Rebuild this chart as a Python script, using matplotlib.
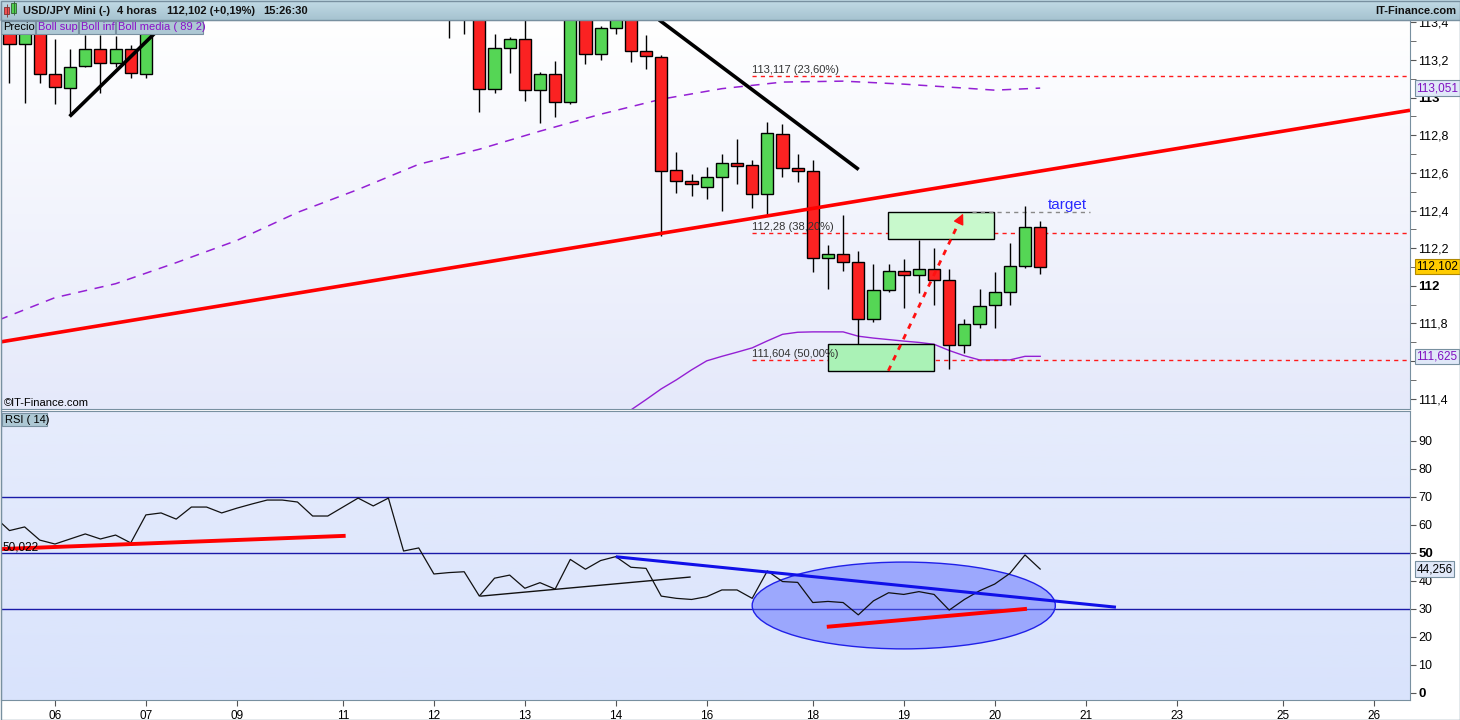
import numpy as np
import matplotlib.pyplot as plt
import matplotlib.colors as mcolors
from matplotlib.patches import Rectangle, Ellipse
from matplotlib.transforms import blended_transform_factory as blend

plt.rcParams['font.family'] = ['Liberation Sans', 'DejaVu Sans']
plt.rcParams['font.size'] = 8

W, H = 1460, 720

# ---------- 4h candles, first bar index = -3 ----------
bar0 = -3
opens = [113.40, 113.285, 113.45, 113.125, 113.051, 113.168, 113.259, 113.184, 113.259, 113.125,
         113.45, 113.50, 113.46, 113.58, 113.59, 113.53, 113.60, 113.67, 113.75, 113.76,
         113.73, 113.60, 113.61, 113.70, 113.82, 113.74, 113.86, 113.52, 113.55, 113.44,
         113.46, 113.47, 113.045, 113.264, 113.312, 113.040, 113.125, 112.976, 113.45, 113.232,
         113.371, 113.44, 113.248, 113.216, 112.614, 112.555, 112.523, 112.576, 112.651, 112.640,
         112.486, 112.806, 112.624, 112.608, 112.150, 112.171, 112.129, 111.825, 111.979, 112.081,
         112.059, 112.091, 112.033, 111.686, 111.798, 111.899, 111.969, 112.107, 112.310]
highs = [113.45, 113.42, 113.48, 113.312, 113.259, 113.333, 113.333, 113.33, 113.28, 113.50,
         113.55, 113.56, 113.63, 113.64, 113.62, 113.65, 113.71, 113.80, 113.81, 113.82,
         113.75, 113.66, 113.74, 113.86, 113.85, 113.90, 113.88, 113.60, 113.57, 113.50,
         113.52, 113.52, 113.339, 113.323, 113.44, 113.136, 113.195, 113.50, 113.48, 113.38,
         113.47, 113.47, 113.333, 113.227, 112.710, 112.592, 112.630, 112.699, 112.779, 112.667,
         112.870, 112.859, 112.699, 112.667, 112.219, 112.379, 112.187, 112.118, 112.118, 112.145,
         112.241, 112.203, 112.091, 111.825, 111.985, 112.075, 112.225, 112.422, 112.347]
lows = [113.077, 112.971, 113.077, 112.965, 112.907, 113.165, 113.024, 113.163, 113.104, 113.104,
        113.43, 113.44, 113.44, 113.52, 113.49, 113.50, 113.56, 113.63, 113.69, 113.68,
        113.56, 113.54, 113.58, 113.67, 113.70, 113.72, 113.48, 113.46, 113.42, 113.317,
        113.339, 112.923, 113.024, 113.131, 112.981, 112.864, 112.896, 112.965, 113.179, 113.200,
        113.339, 113.189, 113.152, 112.267, 112.491, 112.480, 112.459, 112.395, 112.539, 112.411,
        112.374, 112.576, 112.550, 112.075, 111.985, 112.081, 111.691, 111.809, 111.969, 111.883,
        111.963, 111.899, 111.558, 111.643, 111.777, 111.777, 111.899, 112.097, 112.065]
closes = [113.285, 113.38, 113.125, 113.056, 113.163, 113.259, 113.184, 113.259, 113.131, 113.45,
          113.50, 113.46, 113.58, 113.59, 113.53, 113.60, 113.67, 113.75, 113.76, 113.73,
          113.60, 113.61, 113.70, 113.82, 113.74, 113.86, 113.52, 113.55, 113.44, 113.46,
          113.47, 113.045, 113.264, 113.312, 113.040, 113.125, 112.976, 113.45, 113.232, 113.371,
          113.43, 113.248, 113.221, 112.608, 112.555, 112.539, 112.576, 112.651, 112.635, 112.486,
          112.811, 112.624, 112.608, 112.150, 112.171, 112.129, 111.825, 111.979, 112.081, 112.059,
          112.091, 112.033, 111.686, 111.798, 111.894, 111.969, 112.107, 112.310, 112.102]

# Bollinger (89, 2): middle band (dashed) and lower band
media_x = [-4, 0, 4, 8, 12, 16, 20, 24, 28, 32, 36, 40, 44, 48, 52, 56, 60, 62, 65]
media_y = [111.809, 111.937, 112.011, 112.123, 112.241, 112.390, 112.512, 112.646, 112.726, 112.822,
           112.912, 112.992, 113.048, 113.083, 113.088, 113.072, 113.051, 113.040, 113.051]
inf_x = list(range(38, 66))
inf_y = [111.340, 111.395, 111.452, 111.500, 111.553, 111.601, 111.625, 111.647, 111.670, 111.707,
         111.742, 111.753, 111.755, 111.755, 111.755, 111.732, 111.722, 111.714, 111.706, 111.699,
         111.689, 111.656, 111.628, 111.606, 111.606, 111.606, 111.625, 111.625]

# RSI(14), first point index = -4
rsi0 = -4
rsi = [63.0, 58.0, 59.3, 54.6, 53.2, 55.0, 56.8, 55.0, 56.4, 53.6,
       63.6, 64.3, 62.1, 66.4, 66.4, 64.3, 66.0, 67.5, 68.9, 68.9,
       68.2, 63.2, 63.2, 66.4, 69.6, 66.8, 69.6, 50.7, 51.8, 42.5,
       43.0, 43.3, 34.6, 41.0, 42.1, 37.4, 39.4, 37.1, 47.7, 44.2,
       47.3, 48.7, 44.9, 44.5, 34.6, 33.8, 33.4, 34.4, 36.8, 36.8,
       33.8, 43.6, 39.8, 39.5, 32.3, 32.7, 32.3, 27.9, 32.9, 35.8,
       35.2, 36.2, 35.2, 29.6, 33.4, 36.5, 38.9, 42.7, 49.3, 44.256]

# drawings
black1_x, black1_y = [1.05, 6.46], [112.907, 113.333]
black2_x, black2_y = [39.95, 52.93], [113.408, 112.624]
red_x, red_y = [-3.56, 89.4], [111.702, 112.933]
fib_levels = [113.117, 112.28, 111.604]
fib_labels = ['113,117 (23,60%)', '112,28 (38,20%)', '111,604 (50,00%)']
fib_start = 46
box_hi = [54.97, 61.96, 112.251, 112.390]
box_lo = [51.0, 58.0, 111.548, 111.691]
arrow_x, arrow_y = [54.98, 59.92], [111.548, 112.384]
target_x, target_y = [60.5, 68.3], [112.390, 112.390]

rsi_red1_x, rsi_red1_y = [-3.56, 19.05], [51.4, 56.1]
rsi_blk_x, rsi_blk_y = [28.1, 41.9], [34.6, 41.4]
rsi_blue_x, rsi_blue_y = [37.1, 69.9], [48.6, 30.7]
rsi_red2_x, rsi_red2_y = [51.05, 64.0], [23.7, 30.0]
ellipse_c, ellipse_w, ellipse_h = (56.0, 31.25), 20.0, 31.0

tick_pos = [0, 6, 12, 19, 25, 31, 37, 43, 50, 56, 62, 68, 74, 81, 87]
tick_lab = ['06', '07', '09', '11', '12', '13', '14', '16', '18', '19', '20', '21', '23', '25', '26']

# 111,6 sits under the 111,625 value box in the original, so its label is left blank
price_ticks = [111.4, 111.6, 111.8, 112.0, 112.2, 112.4, 112.6, 112.8, 113.0, 113.2, 113.4]
price_lab = ['111,4', '', '111,8', '112', '112,2', '112,4', '112,6', '112,8', '113', '113,2', '113,4']
rsi_ticks = [0, 10, 20, 30, 40, 50, 60, 70, 80, 90]

XMIN, XMAX = -3.56, 89.4
PURPLE = '#9420d4'
EDGE = '#7890a0'


def px_rect(l, t, r, b):
    return [l / W, 1 - b / H, (r - l) / W, (b - t) / H]


def gradient(a, top, bottom):
    g = np.linspace(0, 1, 256)[:, None, None]
    t = np.array(mcolors.to_rgb(top))[None, None, :]
    b = np.array(mcolors.to_rgb(bottom))[None, None, :]
    a.imshow(t * (1 - g) + b * g, extent=[0, 1, 0, 1], transform=a.transAxes,
             aspect='auto', zorder=0, interpolation='bilinear')


fig = plt.figure(figsize=(W / 100, H / 100), dpi=100)
fig.patch.set_facecolor('white')
ax = fig.add_axes(px_rect(1, 20, 1410, 409))
ax2 = fig.add_axes(px_rect(1, 411, 1410, 700), sharex=ax)
gradient(ax, '#ffffff', '#e5e9fa')
gradient(ax2, '#e6ecfc', '#d9e3fc')

# ---- candles ----
x = np.arange(bar0, bar0 + len(opens))
o, h, l, c = map(np.array, (opens, highs, lows, closes))
up = c >= o
ax.vlines(x, l, h, color='black', lw=1, zorder=3)
ax.bar(x, np.maximum(np.abs(c - o), 0.006), bottom=np.minimum(o, c), width=0.8,
       color=np.where(up, '#55d655', '#fb2222'), edgecolor='black', linewidth=1, zorder=4)

ax.plot(media_x, media_y, color=PURPLE, lw=1.1, ls=(0, (6, 5)), zorder=2)
ax.plot(inf_x, inf_y, color=PURPLE, lw=1, zorder=2)

ax.plot(red_x, red_y, color='#ff0000', lw=2.6, zorder=5, solid_capstyle='butt')
ax.plot(black1_x, black1_y, color='black', lw=2.6, zorder=5)
ax.plot(black2_x, black2_y, color='black', lw=2.6, zorder=5)

for lvl, lab in zip(fib_levels, fib_labels):
    ax.hlines(lvl, fib_start, XMAX, colors='#ff1a1a', linestyles=(0, (3, 3)), lw=1, zorder=2)
    ax.text(fib_start, lvl + 0.006, lab, fontsize=8, color='#333333', va='bottom', ha='left', zorder=6)

for bx, fc in ((box_hi, '#c8f9cc'), (box_lo, '#aaf2b6')):
    ax.add_patch(Rectangle((bx[0], bx[2]), bx[1] - bx[0], bx[3] - bx[2],
                           facecolor=fc, edgecolor='black', lw=1, zorder=2.5))

ax.plot(target_x, target_y, color='#888888', lw=1, ls=(0, (3, 3)), zorder=2.6)
ax.text(65.5, 112.432, 'target', color='#2a2aff', fontsize=11, va='center', ha='left', zorder=6)

ax.plot(arrow_x, arrow_y, color='#ff1010', lw=2, ls=(0, (2, 2.2)), zorder=6)
dx, dy = arrow_x[1] - arrow_x[0], arrow_y[1] - arrow_y[0]
ax.annotate('', xy=(arrow_x[1], arrow_y[1]), xytext=(arrow_x[1] - 0.02 * dx, arrow_y[1] - 0.02 * dy),
            arrowprops=dict(arrowstyle='-|>', color='#ff1010', lw=1, mutation_scale=16,
                            shrinkA=0, shrinkB=0), zorder=6)

ax.text(0.002, 0.016, '©IT-Finance.com', transform=ax.transAxes, fontsize=8, va='center', ha='left')

ax.set_xlim(XMIN, XMAX)
ax.set_ylim(111.345, 113.413)
ax.yaxis.tick_right()
ax.set_yticks(price_ticks, price_lab)
ax.set_yticks(np.round(np.arange(111.4, 113.41, 0.1), 1), minor=True)
ax.tick_params(axis='y', which='both', length=4, pad=2, labelsize=9, color='#555555')
ax.tick_params(axis='x', bottom=False, labelbottom=False)
for t in ax.get_yticklabels():
    if t.get_text() in ('112', '113'):
        t.set_fontweight('bold')
        t.set_fontsize(9.5)

tr = blend(ax.transAxes, ax.transData)
box_kw = dict(boxstyle='square,pad=0.15', fc='#e0e8f8', ec=EDGE, lw=0.8)
ax.text(1.0045, 113.051, '113,051', transform=tr, fontsize=8.5, color='#8010c0', va='center',
        bbox=box_kw, clip_on=False, zorder=20)
ax.text(1.0045, 111.625, '111,625', transform=tr, fontsize=8.5, color='#8010c0', va='center',
        bbox=box_kw, clip_on=False, zorder=20)
ax.text(1.0045, closes[-1], '112,102', transform=tr, fontsize=8.5, color='black', va='center',
        bbox=dict(boxstyle='square,pad=0.15', fc='#ffcc00', ec='#b08800', lw=0.8), clip_on=False, zorder=20)

# ---- RSI ----
ax2.plot(np.arange(rsi0, rsi0 + len(rsi)), rsi, color='#111111', lw=0.9, zorder=4)
for lv in (70, 50, 30):
    ax2.axhline(lv, color='#1a1aa8', lw=1, zorder=2)
ax2.add_patch(Ellipse(ellipse_c, ellipse_w, ellipse_h, facecolor=(0.36, 0.42, 1.0, 0.5),
                      edgecolor='#2020e8', lw=1, zorder=3))
ax2.plot(rsi_red1_x, rsi_red1_y, color='#ff0000', lw=2.8, zorder=5)
ax2.plot(rsi_blk_x, rsi_blk_y, color='#111111', lw=1, zorder=5)
ax2.plot(rsi_blue_x, rsi_blue_y, color='#1010e8', lw=2.2, zorder=5)
ax2.plot(rsi_red2_x, rsi_red2_y, color='#ff0000', lw=2.8, zorder=5)
ax2.text(XMIN + 0.1, 52.1, '50,022', fontsize=8.5, va='center', ha='left', zorder=6)

ax2.set_ylim(-2.5, 100.7)
ax2.yaxis.tick_right()
ax2.set_yticks(rsi_ticks, [str(v) for v in rsi_ticks])
ax2.tick_params(axis='y', length=4, pad=2, labelsize=9, color='#555555')
for t in ax2.get_yticklabels():
    if t.get_text() in ('0', '50'):
        t.set_fontweight('bold')
        t.set_fontsize(9.5)
ax2.text(1.0045, rsi[-1], '44,256', transform=blend(ax2.transAxes, ax2.transData), fontsize=8.5,
         va='center', bbox=box_kw, clip_on=False, zorder=20)
ax2.set_xticks(tick_pos, tick_lab)
ax2.tick_params(axis='x', length=4, pad=3, labelsize=8.5, color='#555555')

for a in (ax, ax2):
    for s in a.spines.values():
        s.set_color(EDGE)

# ---- window chrome (pixel coordinates) ----
ov = fig.add_axes([0, 0, 1, 1], zorder=10)
ov.patch.set_alpha(0)
g = np.linspace(0, 1, 32)[:, None, None]
ov.imshow(np.array(mcolors.to_rgb('#c2dbe6')) * (1 - g) + np.array(mcolors.to_rgb('#a6c3d0')) * g,
          extent=(0, W, 20, 0), aspect='auto')
ov.hlines(20, 0, W, colors=EDGE, lw=1)
# candle icon
ov.add_patch(Rectangle((4, 7), 5, 7, fc='#f05050', ec='#803030', lw=0.6))
ov.vlines(6.5, 4, 17, colors='#803030', lw=0.6)
ov.add_patch(Rectangle((11, 3), 5, 10, fc='#50d050', ec='#306030', lw=0.6))
ov.vlines(13.5, 1, 15, colors='#306030', lw=0.6)
for xp, txt in ((23, 'USD/JPY Mini (-)'), (117, '4 horas'), (167, '112,102 (+0,19%)'), (263, '15:26:30')):
    ov.text(xp, 10.5, txt, fontsize=8, fontweight='bold', va='center', ha='left', color='#111111')
ov.text(1456, 10.5, 'IT-Finance.com', fontsize=8, fontweight='bold', va='center', ha='right', color='#111111')

for l0, r0, txt, col in ((1, 35, 'Precio', 'black'), (36, 78, 'Boll sup', '#8a10c8'),
                         (79, 115, 'Boll inf', '#8a10c8'), (116, 203, 'Boll media ( 89 2)', '#8a10c8')):
    ov.add_patch(Rectangle((l0, 20.5), r0 - l0, 13, fc='#adc8d4', ec=EDGE, lw=0.8))
    ov.text(l0 + 2, 27.3, txt, fontsize=8, va='center', ha='left', color=col)

ov.add_patch(Rectangle((2, 413), 45, 13, fc='#adc8d4', ec=EDGE, lw=0.8))
ov.text(5, 419.7, 'RSI ( 14)', fontsize=8, va='center', ha='left')
ov.add_patch(Rectangle((0.5, 0.5), W - 1, H - 1, fill=False, ec=EDGE, lw=1))
ov.set_xlim(0, W)
ov.set_ylim(H, 0)
ov.axis('off')

fig.savefig('out.png', dpi=100, facecolor='white')
